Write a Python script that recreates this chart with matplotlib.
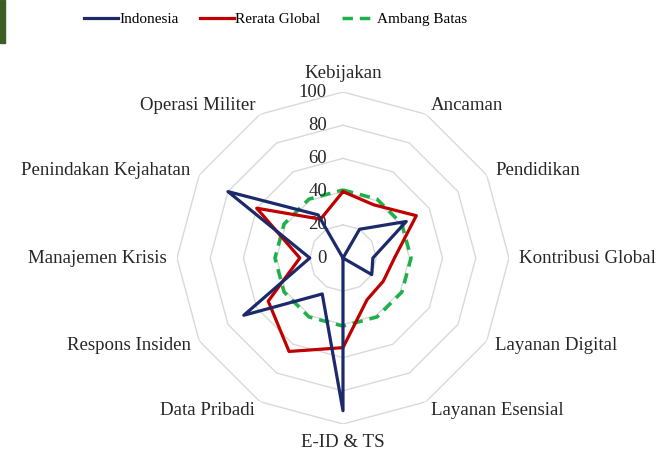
import numpy as np
import matplotlib
matplotlib.use("Agg")
import matplotlib.pyplot as plt
from matplotlib.patches import Rectangle
from matplotlib.transforms import offset_copy

plt.rcParams['font.family'] = ['Liberation Serif', 'DejaVu Serif']

# categories, clockwise from the top
categories = ["Kebijakan", "Ancaman", "Pendidikan", "Kontribusi Global",
              "Layanan Digital", "Layanan Esensial", "E-ID & TS", "Data Pribadi",
              "Respons Insiden", "Manajemen Krisis", "Penindakan Kejahatan",
              "Operasi Militer"]
indonesia = [0, 20, 44, 18, 20, 0, 92, 25, 69, 20, 80, 30]
rerata_global = [40, 37, 51, 31, 28, 29, 54, 65, 52, 26, 60, 27]
ambang_batas = [41] * 12
r_ticks = [0, 20, 40, 60, 80, 100]

navy = "#1c2a6b"
red = "#c00000"
green = "#1db14b"
grid_col = "#d9d9d9"


def closed(vals):
    return list(vals) + [vals[0]]


n = len(categories)
theta = np.linspace(0, 2 * np.pi, n, endpoint=False)
theta_c = closed(theta)

fig = plt.figure(figsize=(6.56, 4.55), dpi=100)
ax = fig.add_axes([0.2698, 0.0681, 0.5061, 0.7297], projection="polar")
ax.set_theta_zero_location("N")
ax.set_theta_direction(-1)
ax.set_ylim(0, 100)
ax.grid(False)
ax.spines["polar"].set_visible(False)
ax.set_xticks([])
ax.set_yticks([])
ax.patch.set_alpha(0)

# polygon grid rings
for lvl in r_ticks[1:]:
    ax.plot(theta_c, [lvl] * (n + 1), color=grid_col, lw=1.0, zorder=1)

# radial tick labels on the top axis
trans = offset_copy(ax.transData, fig=fig, x=-0.16, y=0, units="inches")
for v in r_ticks:
    ax.text(0, v, str(v), transform=trans, ha="right", va="center",
            fontsize=13.5, color="#262626")

ax.plot(theta_c, closed(indonesia), color=navy, lw=2.3, label="Indonesia", zorder=4)
ax.plot(theta_c, closed(rerata_global), color=red, lw=2.3, label="Rerata Global", zorder=3)
ax.plot(theta_c, closed(ambang_batas), color=green, lw=2.5, ls=(0, (3, 2)),
        label="Ambang Batas", zorder=2)

# category labels around the outside
for t, lab in zip(theta, categories):
    s, c = np.sin(t), np.cos(t)
    ha = "left" if s > 0.1 else ("right" if s < -0.1 else "center")
    va = "bottom" if c > 0.9 else ("top" if c < -0.9 else "center")
    ax.text(t, 106, lab, ha=ha, va=va, fontsize=13.6, color="#262626")

fig.legend(loc="center left", bbox_to_anchor=(0.117, 0.958), ncol=3,
           frameon=False, fontsize=11, handlelength=2.2, handletextpad=0.1,
           columnspacing=1.4, borderpad=0)

# bit of a green logo cut off at the top-left corner
fig.patches.append(Rectangle((0, 0.905), 0.007, 0.095, transform=fig.transFigure,
                             color="#3d5e22", zorder=0))

fig.savefig("out.png", dpi=100)
